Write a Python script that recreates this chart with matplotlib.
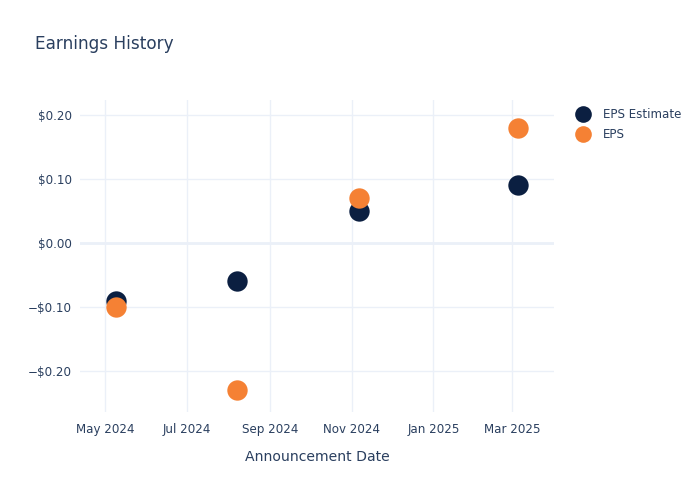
import matplotlib
matplotlib.use("Agg")
import matplotlib.pyplot as plt
import matplotlib.dates as mdates
from matplotlib.ticker import FuncFormatter
from matplotlib.lines import Line2D
import datetime as dt

dates = ["2024-05-09", "2024-08-07", "2024-11-06", "2025-03-05"]
eps_estimate = [-0.09, -0.06, 0.05, 0.09]
eps_actual = [-0.10, -0.23, 0.07, 0.18]
series_names = ["EPS Estimate", "EPS"]
colors = ["#0b1f41", "#f58134"]

x = [dt.datetime.strptime(d, "%Y-%m-%d") for d in dates]

TXT = "#2a3f5f"
GRID = "#ebf0f8"

fig = plt.figure(figsize=(7, 5), dpi=100)
ax = fig.add_axes([80/700, 1-412/500, (554-80)/700, (412-100)/500])

ax.scatter(x, eps_estimate, s=215, color=colors[0], zorder=3, linewidths=0)
ax.scatter(x, eps_actual, s=215, color=colors[1], zorder=4, linewidths=0)

ax.set_xlim(dt.datetime(2024, 4, 12), dt.datetime(2025, 4, 1))
ax.set_ylim(-0.264, 0.223)

ax.xaxis.set_major_locator(mdates.MonthLocator(bymonth=[1, 3, 5, 7, 9, 11]))
ax.xaxis.set_major_formatter(mdates.DateFormatter("%b %Y"))
ax.set_yticks([-0.2, -0.1, 0.0, 0.1, 0.2])

def fmt(v, pos):
    if abs(v) < 1e-9:
        return "$0.00"
    s = f"${abs(v):.2f}"
    return ("\u2212" + s) if v < 0 else s
ax.yaxis.set_major_formatter(FuncFormatter(fmt))

for sp in ax.spines.values():
    sp.set_visible(False)
ax.tick_params(axis="both", length=0, colors=TXT, labelsize=8.6)
ax.tick_params(axis="x", pad=8)
ax.tick_params(axis="y", pad=6)
ax.grid(True, color=GRID, linewidth=1, zorder=0)
ax.axhline(0, color=GRID, linewidth=2, zorder=1)
ax.set_axisbelow(True)

ax.set_xlabel("Announcement Date", color=TXT, fontsize=10.1, labelpad=10)

fig.text(35/700, 1-44/500, "Earnings History", color=TXT, fontsize=12.2, va="center", ha="left")

handles = [Line2D([], [], marker="o", linestyle="", markersize=12, color=c, markeredgewidth=0) for c in colors]
leg = fig.legend(handles, series_names, loc="upper left", bbox_to_anchor=(574/700, 1-108/500),
                 frameon=False, fontsize=8.6, handletextpad=0.9, labelspacing=0.62,
                 borderaxespad=0, handlelength=1.5, borderpad=0)
for t in leg.get_texts():
    t.set_color(TXT)

fig.savefig("out.png", dpi=100, facecolor="white")
